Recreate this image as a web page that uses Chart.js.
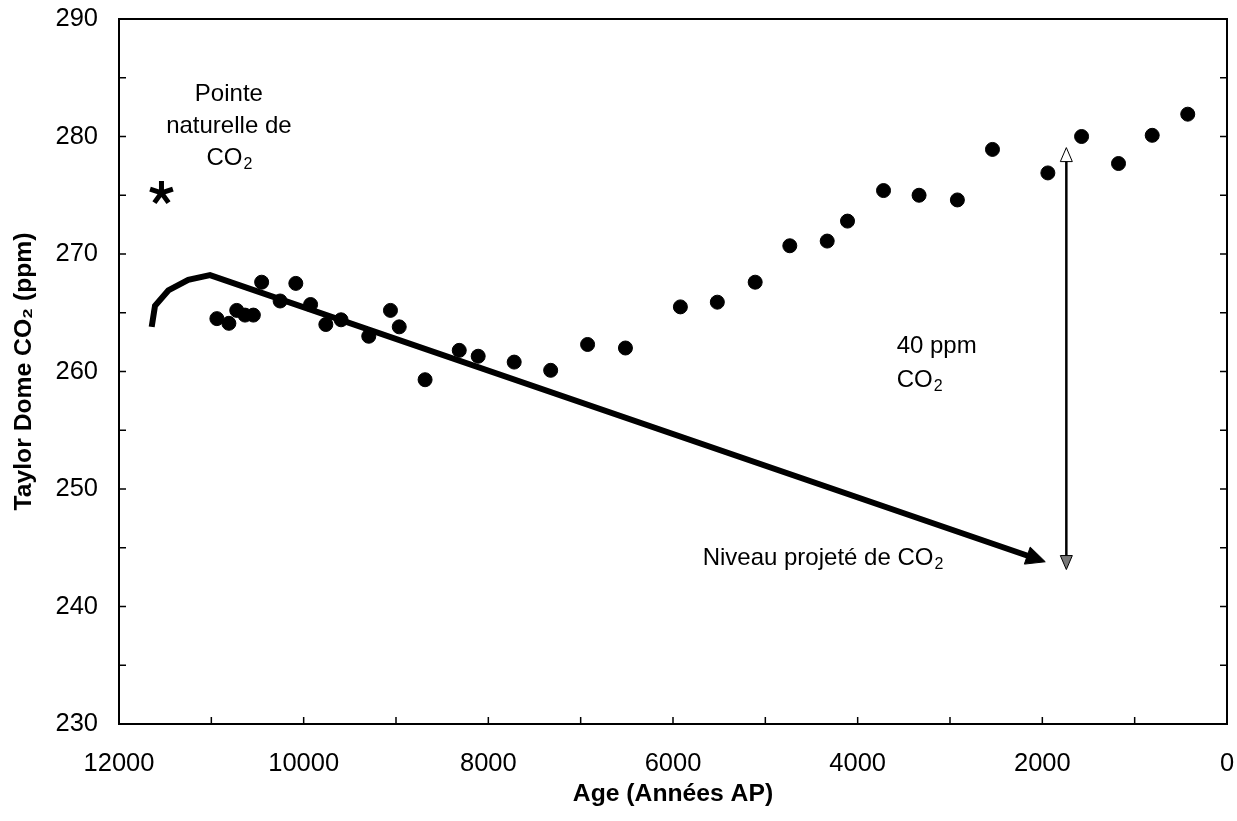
<!DOCTYPE html>
<html>
<head>
<meta charset="utf-8">
<script src="https://cdn.jsdelivr.net/npm/chart.js@4.4.1/dist/chart.umd.min.js"></script>
<style>
  body { margin: 0; background: #fff; }
  #wrap { width: 1237px; height: 821px; }
</style>
</head>
<body>
<div id="wrap"><canvas id="chart1" width="1237" height="821"></canvas></div>
<script>
// Taylor Dome CO2 record (age in years BP, CO2 in ppm)
const ages = [10940, 10810, 10725, 10635, 10545, 10455, 10255, 10085, 9925, 9760,
              9595, 9295, 9060, 8965, 8685, 8315, 8110, 7720, 7325, 6925,
              6515, 5920, 5520, 5110, 4735, 4330, 4110, 3720, 3335, 2920,
              2540, 1940, 1575, 1175, 810, 425];
const co2 = [264.5, 264.1, 265.2, 264.8, 264.8, 267.6, 266.0, 267.5, 265.7, 264.0,
             264.4, 263.0, 265.2, 263.8, 259.3, 261.8, 261.3, 260.8, 260.1, 262.3,
             262.0, 265.5, 265.9, 267.6, 270.7, 271.1, 272.8, 275.4, 275.0, 274.6,
             278.9, 276.9, 280.0, 277.7, 280.1, 281.9];

// projected trend: early rise, then straight fall to the arrow tip
const projAges = [11646, 11610, 11466, 11250, 11014, 2040];
const projCO2 = [263.8, 265.6, 266.9, 267.8, 268.2, 244.0];

// 40 ppm gap arrow
const gapAges = [1740, 1740];
const gapCO2 = [243.4, 278.8];

// natural CO2 peak marker (*)
const peakAge = 11540;
const peakCO2 = 275.2;

const FONT = "Arial, 'Liberation Sans', sans-serif";

// text notes, anchor in data units; "_2" = subscript
const notes = [
  { age: 10810, ppm: 283.0, align: 'center', gap: 31.7, lines: ['Pointe', 'naturelle de', 'CO_2'] },
  { age: 3578, ppm: 261.6, align: 'left', gap: 34, lines: ['40 ppm', 'CO_2'] },
  { age: 5679, ppm: 243.5, align: 'left', gap: 0, lines: ['Niveau projeté de CO_2'] }
];

function drawRich(ctx, str, x, y, align) {
  const parts = str.split('_');
  const big = '24px ' + FONT, small = '16px ' + FONT;
  ctx.font = big;
  const w0 = ctx.measureText(parts[0]).width;
  ctx.font = small;
  const w1 = parts[1] ? ctx.measureText(parts[1]).width : 0;
  let sx = x;
  if (align === 'center') sx = x - (w0 + w1) / 2;
  ctx.textAlign = 'left';
  ctx.textBaseline = 'alphabetic';
  ctx.font = big;
  ctx.fillText(parts[0], sx, y);
  if (parts[1]) {
    ctx.font = small;
    ctx.fillText(parts[1], sx + w0 + 1, y + 4);
  }
}

function drawHead(ctx, tip, from, len, halfW, ext, fill, stroke) {
  const dx = tip.x - from.x, dy = tip.y - from.y;
  const d = Math.hypot(dx, dy);
  const ux = dx / d, uy = dy / d;
  const tx = tip.x + ux * ext, ty = tip.y + uy * ext;
  const bx = tx - ux * len, by = ty - uy * len;
  ctx.beginPath();
  ctx.moveTo(tx, ty);
  ctx.lineTo(bx - uy * halfW, by + ux * halfW);
  ctx.lineTo(bx + uy * halfW, by - ux * halfW);
  ctx.closePath();
  ctx.fillStyle = fill;
  ctx.fill();
  if (stroke) {
    ctx.strokeStyle = stroke;
    ctx.lineWidth = 1;
    ctx.stroke();
  }
}

const extras = {
  id: 'extras',
  afterDatasetsDraw(chart) {
    const { ctx, chartArea: a, scales: { x, y } } = chart;
    ctx.save();

    // frame with inward ticks
    ctx.strokeStyle = '#000';
    ctx.lineWidth = 2;
    ctx.strokeRect(a.left, a.top, a.right - a.left, a.bottom - a.top);
    ctx.lineWidth = 1.5;
    ctx.beginPath();
    y.ticks.forEach(t => {
      const py = y.getPixelForValue(t.value);
      ctx.moveTo(a.left, py); ctx.lineTo(a.left + 7, py);
      ctx.moveTo(a.right, py); ctx.lineTo(a.right - 7, py);
    });
    x.ticks.forEach(t => {
      const px = x.getPixelForValue(t.value);
      ctx.moveTo(px, a.bottom); ctx.lineTo(px, a.bottom - 7);
    });
    ctx.stroke();

    // arrow heads
    const proj = chart.getDatasetMeta(1).data;
    const n = proj.length;
    drawHead(ctx, proj[n - 1], proj[n - 2], 19, 9, 7, '#000', '#000');
    const gap = chart.getDatasetMeta(2).data;
    drawHead(ctx, gap[0], gap[1], 14, 6, 3, '#777', '#000');
    drawHead(ctx, gap[1], gap[0], 14, 6, 3, '#fff', '#000');

    // asterisk
    const cx = x.getPixelForValue(peakAge), cy = y.getPixelForValue(peakCO2);
    ctx.strokeStyle = '#000';
    ctx.lineWidth = 5;
    ctx.beginPath();
    for (let k = 0; k < 5; k++) {
      const ang = -Math.PI / 2 + k * 2 * Math.PI / 5;
      ctx.moveTo(cx, cy);
      ctx.lineTo(cx + 12 * Math.cos(ang), cy + 12 * Math.sin(ang));
    }
    ctx.stroke();

    // notes
    ctx.fillStyle = '#000';
    notes.forEach(nt => {
      const px = x.getPixelForValue(nt.age), py = y.getPixelForValue(nt.ppm);
      nt.lines.forEach((ln, i) => drawRich(ctx, ln, px, py + i * nt.gap, nt.align));
    });
    ctx.restore();
  }
};

function noPad(s) {
  s.paddingTop = 0; s.paddingBottom = 0; s.paddingLeft = 0; s.paddingRight = 0;
}

const ctx = document.getElementById('chart1').getContext('2d');
const chart1 = new Chart(ctx, {
  type: 'scatter',
  data: {
    datasets: [
      {
        label: 'Taylor Dome',
        data: ages.map((a, i) => ({ x: a, y: co2[i] })),
        backgroundColor: '#000',
        borderColor: '#000',
        pointRadius: 7,
        showLine: false
      },
      {
        label: 'Projection',
        data: projAges.map((a, i) => ({ x: a, y: projCO2[i] })),
        borderColor: '#000',
        borderWidth: 6,
        borderCapStyle: 'butt',
        pointRadius: 0,
        showLine: true,
        tension: 0
      },
      {
        label: '40 ppm',
        data: gapAges.map((a, i) => ({ x: a, y: gapCO2[i] })),
        borderColor: '#000',
        borderWidth: 2.5,
        pointRadius: 0,
        showLine: true
      }
    ]
  },
  options: {
    responsive: false,
    animation: false,
    layout: { padding: { top: 19, right: 10, left: 0, bottom: 0 } },
    plugins: {
      legend: { display: false },
      tooltip: { enabled: false }
    },
    scales: {
      x: {
        type: 'linear',
        reverse: true,
        min: 0,
        max: 12000,
        grid: { display: false, drawTicks: false },
        border: { display: false },
        ticks: {
          stepSize: 1000,
          autoSkip: false,
          maxRotation: 0,
          padding: 25,
          color: '#000',
          font: { family: FONT, size: 25.5 },
          callback: v => (v % 2000 === 0 ? String(v) : '')
        },
        title: {
          display: true,
          text: 'Age (Années AP)',
          color: '#000',
          font: { family: FONT, size: 24.7, weight: 'bold' },
          padding: { top: 0, bottom: 12 }
        },
        afterFit: s => { s.height = 97; noPad(s); }
      },
      y: {
        min: 230,
        max: 290,
        grid: { display: false, drawTicks: false },
        border: { display: false },
        ticks: {
          stepSize: 5,
          autoSkip: false,
          padding: 21,
          color: '#000',
          font: { family: FONT, size: 25.5 },
          callback: v => (v % 10 === 0 ? String(v) : '')
        },
        title: {
          display: true,
          text: 'Taylor Dome CO₂ (ppm)',
          color: '#000',
          font: { family: FONT, size: 24.7, weight: 'bold' },
          padding: { top: 9, bottom: 0 }
        },
        afterFit: s => { s.width = 119; noPad(s); }
      }
    }
  },
  plugins: [extras]
});
</script>
</body>
</html>
